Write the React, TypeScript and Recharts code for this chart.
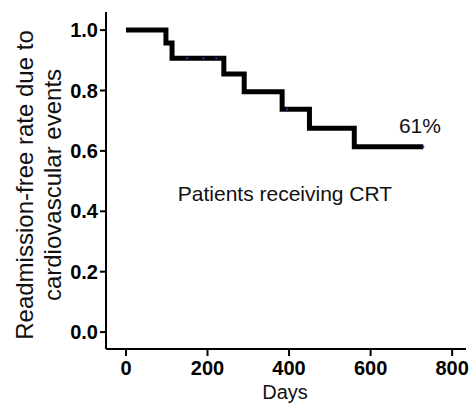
import React from 'react';
import {
  ComposedChart,
  Line,
  Scatter,
  XAxis,
  YAxis,
  ReferenceDot,
  Label,
} from 'recharts';

// Kaplan-Meier steps (day, survival)
const days = [0, 98, 113, 240, 290, 383, 450, 560, 729];
const survival = [1.0, 0.957, 0.907, 0.855, 0.796, 0.738, 0.675, 0.614, 0.614];

// censored observations
const censorDays = [150, 190, 222, 395, 729];
const censorValues = [0.907, 0.907, 0.907, 0.738, 0.614];

const xTicks = [0, 200, 400, 600, 800];
const yTicks = [0, 0.2, 0.4, 0.6, 0.8, 1.0];

const curve = days.map((d, i) => ({ day: d, rate: survival[i] }));
const censored = censorDays.map((d, i) => ({ day: d, rate: censorValues[i] }));

const font = "Arial, 'Liberation Sans', Helvetica, sans-serif";

const YTitle = () => (
  <text
    fontFamily={font}
    fontSize={24}
    fill='#111'
    textAnchor='middle'
    transform='translate(0,185) rotate(-90)'
  >
    <tspan x={0} y={33}>Readmission-free rate due to</tspan>
    <tspan x={0} y={61}>cardiovascular events</tspan>
  </text>
);

const DaysTitle = () => (
  <text x={285} y={399} fontFamily={font} fontSize={20} fill='#111' textAnchor='middle'>
    Days
  </text>
);

const App = () => {
  return (
    <div style={{ position: 'absolute', left: 0, top: 0, background: '#fff' }}>
      <ComposedChart
        width={469}
        height={405}
        margin={{ top: 12, right: 3, left: 0, bottom: 0 }}
      >
        <XAxis
          dataKey='day'
          type='number'
          domain={[-49, 834]}
          ticks={xTicks}
          allowDataOverflow
          height={56}
          stroke='#000'
          strokeWidth={2}
          tickSize={7}
          tickMargin={5}
          tick={{ fill: '#000', fontSize: 20, fontWeight: 'bold', fontFamily: font }}
          label={{ content: () => <DaysTitle /> }}
        />
        <YAxis
          dataKey='rate'
          type='number'
          domain={[-0.056, 1.06]}
          ticks={yTicks}
          allowDataOverflow
          width={106}
          stroke='#000'
          strokeWidth={2}
          tickSize={6}
          tickMargin={2}
          tickFormatter={(v: number) => v.toFixed(1)}
          tick={{ fill: '#000', fontSize: 20, fontWeight: 'bold', fontFamily: font }}
          label={{ content: () => <YTitle /> }}
        />
        <Line
          data={curve}
          dataKey='rate'
          type='stepAfter'
          stroke='#000'
          strokeWidth={5}
          dot={false}
          isAnimationActive={false}
        />
        <Scatter
          data={censored}
          dataKey='rate'
          fill='#2a2a9a'
          shape={(p: any) => <circle cx={p.cx} cy={p.cy} r={1.2} fill='#2a2a9a' />}
          isAnimationActive={false}
        />
        <ReferenceDot x={721} y={0.685} r={0} stroke='none' fill='none'>
          <Label
            value='61%'
            position='center'
            style={{ fill: '#111', fontSize: 21, fontFamily: font }}
          />
        </ReferenceDot>
        <ReferenceDot x={390} y={0.46} r={0} stroke='none' fill='none'>
          <Label
            value='Patients receiving CRT'
            position='center'
            style={{ fill: '#111', fontSize: 21, fontFamily: font }}
          />
        </ReferenceDot>
      </ComposedChart>
    </div>
  );
};

export default App;
